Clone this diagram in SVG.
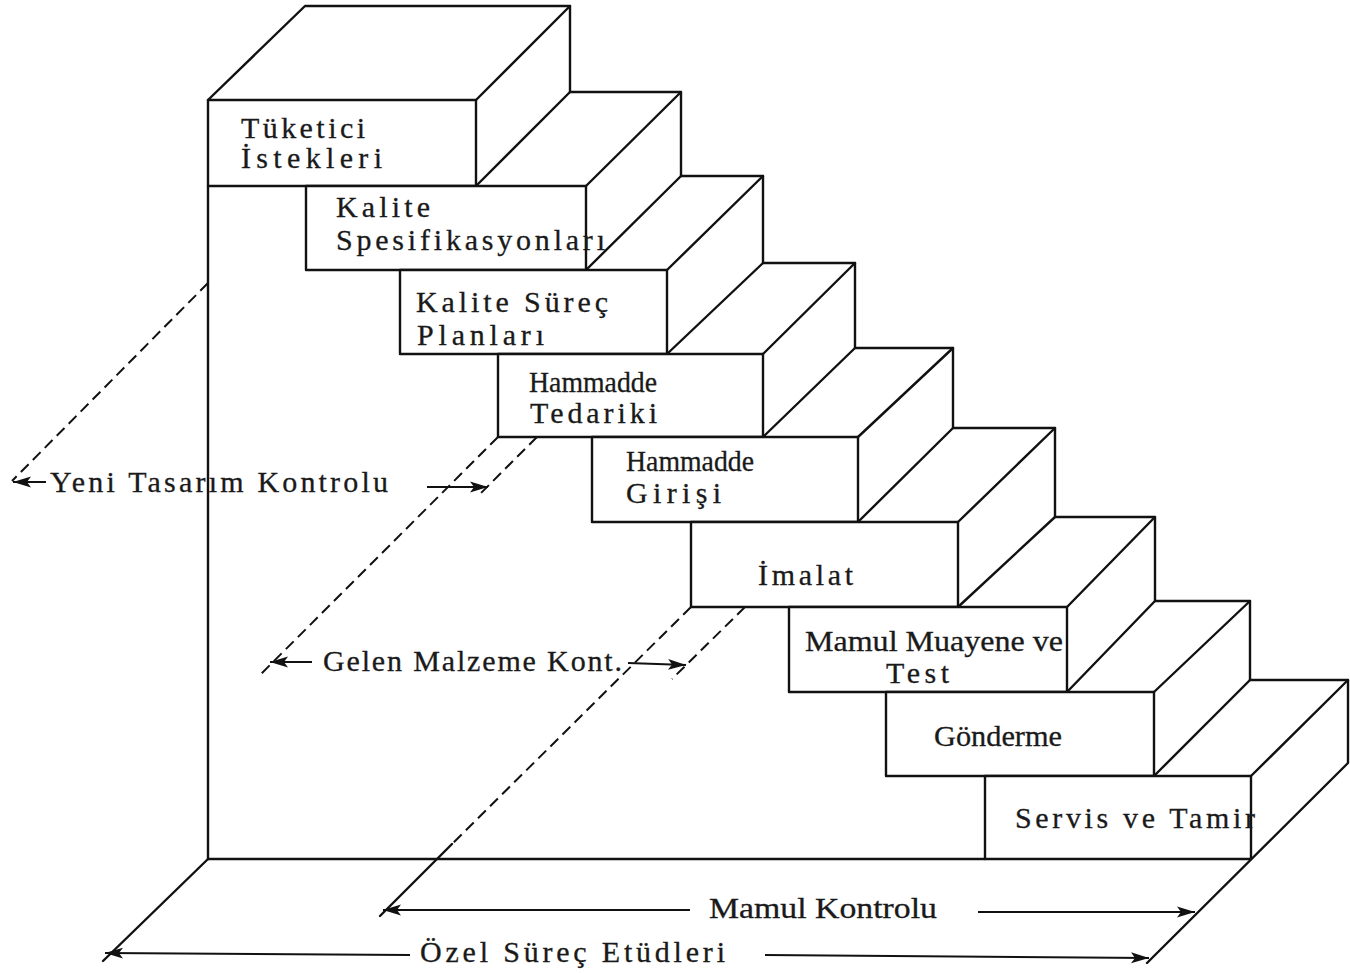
<svg xmlns="http://www.w3.org/2000/svg" width="1350" height="973" viewBox="0 0 1350 973">
<defs>
<style>
.ln{fill:none;stroke:#111;stroke-width:2.4;stroke-linejoin:round;stroke-linecap:round}
.face{fill:#fff;stroke:#111;stroke-width:2.4;stroke-linejoin:round}
.dash{fill:none;stroke:#111;stroke-width:2;stroke-dasharray:11 6}
.arr{fill:none;stroke:#111;stroke-width:2;marker-end:url(#ah)}
.t{font-family:"Liberation Serif","Times New Roman",serif;font-size:30px;fill:#1a1a1a;stroke:#1a1a1a;stroke-width:0.3}
</style>
<marker id="ah" markerWidth="20" markerHeight="14" refX="18" refY="6" orient="auto" markerUnits="userSpaceOnUse">
<path d="M0,0.5 L18,6 L0,11.5 L4,6 Z" fill="#111"/>
</marker>
</defs>
<rect width="1350" height="973" fill="#fff"/>

<g id="structure">
<polyline class="ln" points="208,100 305,6 570,6 570,92 681,92 681,176 763,176 763,263 855,263 855,348 953,348 953,428 1055,428 1055,517 1155,517 1155,601 1250,601 1250,680 1348,680 1348,763 1147,963"/>
<line class="ln" x1="208" y1="186" x2="208" y2="859"/>
<line class="ln" x1="208" y1="859" x2="985" y2="859"/>
<line class="ln" x1="208" y1="859" x2="103" y2="961"/>
<g>
<line class="ln" x1="476" y1="100" x2="570" y2="6"/>
<line class="ln" x1="586" y1="186" x2="681" y2="92"/>
<line class="ln" x1="667" y1="270" x2="763" y2="176"/>
<line class="ln" x1="763" y1="354" x2="855" y2="263"/>
<line class="ln" x1="858" y1="437" x2="953" y2="348"/>
<line class="ln" x1="958" y1="522" x2="1055" y2="428"/>
<line class="ln" x1="1067" y1="607" x2="1155" y2="517"/>
<line class="ln" x1="1154" y1="692" x2="1250" y2="601"/>
<line class="ln" x1="1251" y1="776" x2="1348" y2="680"/>
<line class="ln" x1="476" y1="186" x2="570" y2="92"/>
<line class="ln" x1="586" y1="270" x2="681" y2="176"/>
<line class="ln" x1="667" y1="354" x2="763" y2="263"/>
<line class="ln" x1="763" y1="437" x2="855" y2="348"/>
<line class="ln" x1="858" y1="522" x2="953" y2="428"/>
<line class="ln" x1="958" y1="607" x2="1055" y2="517"/>
<line class="ln" x1="1067" y1="692" x2="1155" y2="601"/>
<line class="ln" x1="1154" y1="776" x2="1250" y2="680"/>
</g>
</g>

<g id="node-tuketici">
<rect class="face" x="208" y="100" width="268" height="86"/>
<text class="t" x="241" y="138" textLength="124" lengthAdjust="spacing">Tüketici</text>
<text class="t" x="241" y="168" textLength="141" lengthAdjust="spacing">İstekleri</text>
</g>
<g id="node-kalite-spesifikasyon">
<rect class="face" x="306" y="186" width="280" height="84"/>
<text class="t" x="336" y="217" textLength="94" lengthAdjust="spacing">Kalite</text>
<text class="t" x="336" y="250" textLength="269" lengthAdjust="spacing">Spesifikasyonları</text>
</g>
<g id="node-kalite-surec">
<rect class="face" x="400" y="270" width="267" height="84"/>
<text class="t" x="416" y="312" textLength="192" lengthAdjust="spacing">Kalite Süreç</text>
<text class="t" x="417" y="345" textLength="127" lengthAdjust="spacing">Planları</text>
</g>
<g id="node-hammadde-tedariki">
<rect class="face" x="498" y="354" width="265" height="83"/>
<text class="t" x="529" y="392" textLength="128" lengthAdjust="spacingAndGlyphs">Hammadde</text>
<text class="t" x="530" y="423" textLength="127" lengthAdjust="spacing">Tedariki</text>
</g>
<g id="node-hammadde-girisi">
<rect class="face" x="592" y="437" width="266" height="85"/>
<text class="t" x="626" y="471" textLength="128" lengthAdjust="spacingAndGlyphs">Hammadde</text>
<text class="t" x="626" y="503" textLength="95" lengthAdjust="spacing">Girişi</text>
</g>
<g id="node-imalat">
<rect class="face" x="691" y="522" width="267" height="85"/>
<text class="t" x="758" y="585" textLength="95" lengthAdjust="spacing">İmalat</text>
</g>
<g id="node-mamul-muayene">
<rect class="face" x="789" y="607" width="278" height="85"/>
<text class="t" x="805" y="651" textLength="258" lengthAdjust="spacingAndGlyphs">Mamul Muayene ve</text>
<text class="t" x="886" y="683" textLength="63" lengthAdjust="spacing">Test</text>
</g>
<g id="node-gonderme">
<rect class="face" x="886" y="692" width="268" height="84"/>
<text class="t" x="934" y="746" textLength="128" lengthAdjust="spacingAndGlyphs">Gönderme</text>
</g>
<g id="node-servis">
<rect class="face" x="985" y="776" width="266" height="83"/>
<text class="t" x="1015" y="828" textLength="240" lengthAdjust="spacing">Servis ve Tamir</text>
</g>

<g id="connectors">
<line class="dash" x1="208" y1="283" x2="12" y2="481"/>
<line class="dash" x1="498" y1="437" x2="258" y2="677"/>
<line class="dash" x1="537" y1="437" x2="477" y2="497"/>
<line class="dash" x1="691" y1="607" x2="452" y2="844"/>
<line class="ln" x1="452" y1="844" x2="380" y2="916"/>
<line class="dash" x1="745" y1="607" x2="672" y2="679"/>
<line class="arr" x1="46" y1="482" x2="13" y2="482"/>
<line class="arr" x1="427" y1="487" x2="488" y2="487"/>
<line class="arr" x1="312" y1="662" x2="270" y2="662"/>
<line class="arr" x1="628" y1="663" x2="686" y2="665"/>
<line class="arr" x1="690" y1="910" x2="383" y2="910"/>
<line class="arr" x1="978" y1="912" x2="1195" y2="912"/>
<line class="arr" x1="410" y1="955" x2="105" y2="953"/>
<line class="arr" x1="765" y1="955" x2="1149" y2="958"/>
</g>

<g id="labels">
<text class="t" x="50" y="492" textLength="338" lengthAdjust="spacing">Yeni Tasarım Kontrolu</text>
<text class="t" x="323" y="671" textLength="299" lengthAdjust="spacing">Gelen Malzeme Kont.</text>
<text class="t" x="709" y="918" textLength="228" lengthAdjust="spacingAndGlyphs">Mamul Kontrolu</text>
<text class="t" x="420" y="962" textLength="305" lengthAdjust="spacing">Özel Süreç Etüdleri</text>
</g>
</svg>
